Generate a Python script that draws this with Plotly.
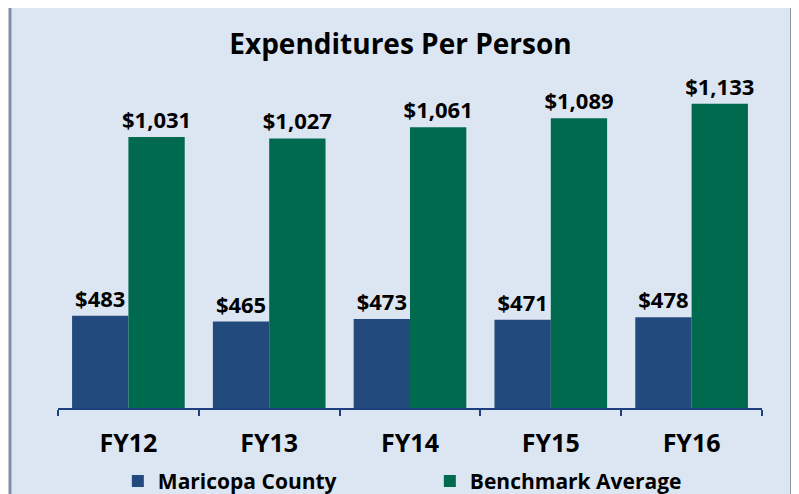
import plotly.graph_objects as go

years = ["FY12", "FY13", "FY14", "FY15", "FY16"]
maricopa = [483, 465, 473, 471, 478]
benchmark = [1031, 1027, 1061, 1089, 1133]

BLUE = "#234a7c"
GREEN = "#006a4e"
BG = "#dce6f2"
FONT = "Open Sans, sans-serif"
LABEL_FONT = dict(size=22, color="black", family=FONT, weight="bold")

fig = go.Figure()
fig.add_trace(go.Bar(
    x=years, y=maricopa, name="Maricopa County",
    marker=dict(color=BLUE, line=dict(width=0)),
    text=[f"${v:,}" for v in maricopa], textposition="outside",
    textfont=LABEL_FONT, constraintext="none", cliponaxis=False,
))
fig.add_trace(go.Bar(
    x=years, y=benchmark, name="Benchmark Average",
    marker=dict(color=GREEN, line=dict(width=0)),
    text=[f"${v:,}" for v in benchmark], textposition="outside",
    textfont=LABEL_FONT, constraintext="none", cliponaxis=False,
))

# рамка с фоном
fig.add_shape(
    type="rect", xref="paper", yref="paper",
    x0=-0.0682, x1=1.042, y0=-0.35, y1=1.245,
    fillcolor=BG, line=dict(color="#8090a6", width=3), layer="below",
)

# страница имеет отступ 8px у body, поэтому фигура чуть меньше окна
fig.update_layout(
    width=791, height=486,
    margin=dict(l=50, r=37, t=74, b=86, autoexpand=False),
    paper_bgcolor="white",
    plot_bgcolor="rgba(0,0,0,0)",
    font=dict(family=FONT, color="black"),
    barmode="group", bargap=0.2, bargroupgap=0,
    title=dict(
        text="<b>Expenditures Per Person</b>",
        x=0.4865, xanchor="center", xref="paper",
        y=0.926, yanchor="middle", yref="container",
        font=dict(size=28, family=FONT, color="black"),
    ),
    showlegend=True,
    legend=dict(
        orientation="h", x=0.085, xanchor="left", y=-0.225, yanchor="middle",
        font=dict(size=21, family=FONT, color="black", weight="bold"),
        bgcolor="rgba(0,0,0,0)", itemwidth=30, entrywidth=267,
    ),
    hovermode=False,
)
fig.update_xaxes(
    showline=True, linecolor="#1f3f7f", linewidth=2,
    ticks="outside", tickson="boundaries", ticklen=6, tickcolor="#1f3f7f", tickwidth=2,
    tickfont=dict(size=25, family=FONT, color="black", weight="bold"),
    ticklabelstandoff=12,
    showgrid=False,
)
fig.update_yaxes(range=[200, 1200], visible=False, showgrid=False)

fig.write_html("out.html")
